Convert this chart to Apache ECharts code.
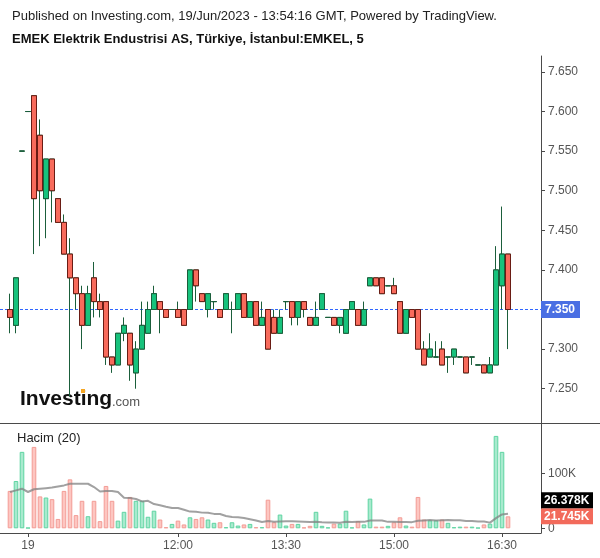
<!DOCTYPE html>
<html><head><meta charset="utf-8">
<script src="https://cdn.jsdelivr.net/npm/echarts@6/dist/echarts.min.js"></script>
<style>html,body{margin:0;padding:0;background:#fff}#c{width:600px;height:558px}</style>
</head><body><div id="c"></div>
<script>
// ---- data (EMKEL, 5 min) ----
const openP  = [7.35,7.33,7.55,7.60,7.62,7.57,7.49,7.54,7.49,7.46,7.42,7.39,7.37,7.33,7.39,7.36,7.36,7.29,7.28,7.32,
                7.32,7.27,7.30,7.32,7.35,7.36,7.35,7.35,7.35,7.35,7.35,7.40,7.37,7.35,7.36,7.35,7.35,7.35,7.35,7.37,
                7.34,7.36,7.33,7.35,7.34,7.32,7.36,7.36,7.34,7.36,7.34,7.33,7.35,7.34,7.34,7.33,7.32,7.35,7.35,7.33,
                7.38,7.39,7.39,7.38,7.38,7.36,7.32,7.35,7.35,7.30,7.29,7.29,7.30,7.29,7.29,7.29,7.29,7.29,7.28,7.28,
                7.27,7.28,7.38,7.42];
const closeP = [7.34,7.39,7.55,7.60,7.49,7.50,7.54,7.50,7.46,7.42,7.39,7.37,7.33,7.37,7.36,7.35,7.29,7.28,7.32,7.33,
                7.28,7.30,7.33,7.35,7.37,7.35,7.34,7.35,7.34,7.33,7.40,7.38,7.36,7.37,7.36,7.34,7.37,7.35,7.37,7.34,
                7.36,7.33,7.34,7.30,7.32,7.34,7.36,7.34,7.36,7.35,7.33,7.34,7.37,7.34,7.33,7.34,7.35,7.36,7.33,7.35,
                7.39,7.38,7.37,7.38,7.37,7.32,7.35,7.34,7.30,7.28,7.30,7.29,7.28,7.29,7.30,7.29,7.27,7.29,7.28,7.27,
                7.28,7.40,7.42,7.35];
const highP  = [7.37,7.39,7.55,7.60,7.62,7.59,7.54,7.54,7.49,7.47,7.44,7.39,7.38,7.38,7.41,7.37,7.36,7.29,7.32,7.34,
                7.32,7.31,7.36,7.36,7.38,7.36,7.35,7.35,7.36,7.35,7.40,7.40,7.37,7.37,7.36,7.35,7.37,7.36,7.37,7.37,
                7.36,7.36,7.36,7.35,7.35,7.35,7.36,7.36,7.36,7.36,7.34,7.36,7.37,7.34,7.34,7.34,7.35,7.36,7.35,7.36,
                7.39,7.39,7.39,7.38,7.39,7.36,7.35,7.35,7.35,7.31,7.32,7.31,7.31,7.29,7.30,7.29,7.29,7.29,7.28,7.28,
                7.29,7.43,7.48,7.42];
const lowP   = [7.32,7.32,7.55,7.60,7.42,7.43,7.44,7.46,7.46,7.42,7.24,7.35,7.30,7.33,7.34,7.34,7.28,7.27,7.28,7.31,
                7.26,7.25,7.30,7.32,7.35,7.32,7.34,7.35,7.34,7.33,7.35,7.36,7.36,7.34,7.35,7.34,7.35,7.32,7.35,7.34,
                7.34,7.33,7.33,7.30,7.32,7.32,7.35,7.33,7.33,7.34,7.33,7.33,7.35,7.34,7.33,7.32,7.32,7.35,7.33,7.33,
                7.38,7.38,7.37,7.38,7.37,7.32,7.32,7.34,7.30,7.28,7.29,7.29,7.28,7.27,7.28,7.29,7.27,7.28,7.28,7.27,
                7.27,7.28,7.35,7.30];
const volume = [68000,86000,139000,1000,148000,58000,56000,53000,17000,68000,89000,24000,50000,22000,50000,13000,77000,50000,14000,30000,
                57000,50000,50000,21000,32000,16000,2000,8000,14000,7000,20000,17000,20000,16000,10000,11000,2000,11000,5000,7000,
                8000,2000,2000,52000,11000,25000,5000,8000,8000,1500,4500,30000,4500,1500,8500,8500,32000,1500,13000,7000,
                54000,3000,3000,4500,11000,20000,5000,3000,57000,16000,14500,14500,16000,10000,2000,3000,3000,3000,1000,7000,
                8500,168000,139000,21745];
const volumeMA = [66000,69000,72000,66000,71000,72000,73000,74000,76000,78000,81000,81000,81000,81000,75000,67000,68000,68000,66000,55700,
                55100,53300,48900,49900,44100,42000,39300,37000,36900,33800,30400,30000,28500,28200,26200,26100,22400,20400,20000,18800,
                16400,14000,11600,13100,12100,12500,12700,12700,12400,12100,11300,12000,11200,10500,10400,10300,11800,11300,11700,11700,
                14000,14000,14100,11700,11700,11500,11500,11200,13700,14400,14900,14100,14700,15100,14800,14500,13100,13100,12500,12500,
                10300,18500,25300,26378];
const priceTicks = [7.25,7.30,7.35,7.40,7.45,7.50,7.55,7.60,7.65];
const volTicks = [0,100000];
const tickIndex = [3,28,46,64,82];
const tickText  = ['19','12:00','13:30','15:00','16:30'];

// categories: three bars of the previous session, then 5-minute slots from 09:55 (incl. empty right margin)
const SLOTS = 89;
const categories = ['16 17:50','16 17:55','16 18:00'];
for (let i = 3; i < SLOTS; i++) {
  const m = 9*60 + 55 + (i-3)*5;
  categories.push(String(Math.floor(m/60)).padStart(2,'0') + ':' + String(m%60).padStart(2,'0'));
}

const FONT = "'Liberation Sans', Arial, Helvetica, sans-serif";
const AX = '#4a4a4a';
const UP = '#17c27c', DOWN = '#f86b5c', UPB = '#1b5e3b', DOWNB = '#6a1c14';
const BLUE = '#2f66ff';

const wickData = openP.map((o,i)=>[o, closeP[i], lowP[i], highP[i]]);
const bodyData = openP.map((o,i)=>[o, closeP[i], Math.min(o,closeP[i]), Math.max(o,closeP[i])]);
const volData = volume.map((v,i)=>({
  value: v,
  itemStyle: closeP[i] >= openP[i]
    ? {color:'#a8eace', borderColor:'#5fd4a2', borderWidth:1}
    : {color:'#fdc6c1', borderColor:'#f39c95', borderWidth:1}
}));
const lastClose = closeP[closeP.length-1];
const lastVol = volume[volume.length-1];
const lastMA = volumeMA[volumeMA.length-1];

const chart = echarts.init(document.getElementById('c'), null, {renderer:'canvas'});
const option = {
  animation: false,
  textStyle: {fontFamily: FONT},
  grid: [
    {left:7, right:59, top:56, height:367},
    {left:7, right:59, top:423, height:110}
  ],
  xAxis: [
    {type:'category', gridIndex:0, data:categories, boundaryGap:true,
     axisLine:{show:false}, axisTick:{show:false}, axisLabel:{show:false}, splitLine:{show:false}},
    {type:'category', gridIndex:1, data:categories, boundaryGap:true,
     axisLine:{show:true, onZero:false, lineStyle:{color:AX}},
     axisTick:{show:true, alignWithLabel:true, length:4, interval:(i)=>tickIndex.includes(i), lineStyle:{color:AX}},
     axisLabel:{interval:(i)=>tickIndex.includes(i), formatter:(v,i)=>tickText[tickIndex.indexOf(i)] || '',
                color:'#555', fontSize:12, margin:7, fontFamily:FONT},
     splitLine:{show:false}}
  ],
  yAxis: [
    {type:'value', gridIndex:0, position:'right', min:7.2067, max:7.6701,
     splitLine:{show:false},
     axisLine:{show:true, lineStyle:{color:AX}},
     axisTick:{show:true, length:4, customValues:priceTicks, lineStyle:{color:AX}},
     axisLabel:{customValues:priceTicks, formatter:v=>v.toFixed(3), color:'#555', fontSize:12, margin:7, fontFamily:FONT}},
    {type:'value', gridIndex:1, position:'right', min:-8545, max:191455,
     splitLine:{show:false},
     axisLine:{show:true, lineStyle:{color:AX}},
     axisTick:{show:true, length:4, customValues:volTicks, lineStyle:{color:AX}},
     axisLabel:{customValues:volTicks, formatter:v=>v===0?'0':(v/1000)+'K', color:'#555', fontSize:12, margin:7, fontFamily:FONT}}
  ],
  graphic: {elements: [
    {id:'t1', type:'text', left:12, top:10, style:{text:'Published on Investing.com, 19/Jun/2023 - 13:54:16 GMT, Powered by TradingView.', fill:'#222', font:"13px "+FONT}},
    {id:'t2', type:'text', left:12, top:33, style:{text:'EMEK Elektrik Endustrisi AS, Türkiye, İstanbul:EMKEL, 5', fill:'#111', font:"bold 13px "+FONT}},
    {id:'sep', type:'line', shape:{x1:0,y1:423.5,x2:600,y2:423.5}, style:{stroke:AX, lineWidth:1}},
    {id:'bl', type:'line', shape:{x1:0,y1:533.5,x2:8,y2:533.5}, style:{stroke:AX, lineWidth:1}},
    {id:'logo1', type:'text', x:20, y:389, style:{text:'Investing', fill:'#111', font:"bold 21px "+FONT}},
    {id:'logo2', type:'text', x:112, y:396, style:{text:'.com', fill:'#555', font:"13px "+FONT}},
    {id:'logodot', type:'rect', shape:{x:81,y:389,width:4,height:4}, style:{fill:'#f5a623'}},
    {id:'hacim', type:'text', left:17, top:432, style:{text:'Hacim (20)', fill:'#222', font:"13px "+FONT}}
  ]},
  series: [
    {type:'candlestick', name:'wicks', xAxisIndex:0, yAxisIndex:0, data:wickData, barWidth:4.6, silent:true,
     itemStyle:{color:'rgba(0,0,0,0)', color0:'rgba(0,0,0,0)', borderColor:UPB, borderColor0:UPB, borderColorDoji:UPB, borderWidth:1}},
    {type:'candlestick', name:'EMKEL', xAxisIndex:0, yAxisIndex:0, data:bodyData, barWidth:4.6, silent:true,
     itemStyle:{color:UP, color0:DOWN, borderColor:UPB, borderColor0:DOWNB, borderColorDoji:UPB, borderWidth:1}},
    {type:'bar', name:'Hacim', xAxisIndex:1, yAxisIndex:1, data:volData, barWidth:4.6, silent:true},
    {type:'line', name:'MA20', xAxisIndex:1, yAxisIndex:1, data:volumeMA, symbol:'none', silent:true,
     lineStyle:{color:'rgba(130,130,130,0.75)', width:2}, z:3}
  ]
};
chart.setOption(option);

// last-price line + tag, and last-value tags on the volume axis (positions from the axes)
const pp = Math.floor(chart.convertToPixel({yAxisIndex:0}, lastClose)) + 0.5;
const py = chart.convertToPixel({yAxisIndex:1}, lastVol);
const H = 16;
chart.setOption({graphic:{elements:[
  {id:'pline', type:'line', shape:{x1:0, y1:pp, x2:541, y2:pp}, style:{stroke:BLUE, lineWidth:1, lineDash:[3,2]}, z:1},
  {id:'ptag', type:'rect', shape:{x:541, y:pp-8.5, width:39, height:17}, style:{fill:'#4a6fe3'}, z:10},
  {id:'ptagt', type:'text', x:545, y:pp-6, style:{text:lastClose.toFixed(3), fill:'#fff', font:"bold 12px "+FONT}, z:11},
  {id:'vtagR', type:'rect', shape:{x:541, y:py-H/2, width:52, height:H}, style:{fill:'#f26a5b'}, z:10},
  {id:'vtagRt', type:'text', x:544, y:py-H/2+2, style:{text:(lastVol/1000).toFixed(3)+'K', fill:'#fff', font:"bold 12px "+FONT}, z:11},
  {id:'vtagB', type:'rect', shape:{x:541, y:py-H/2-H, width:52, height:H}, style:{fill:'#000'}, z:10},
  {id:'vtagBt', type:'text', x:544, y:py-H/2-H+2, style:{text:(lastMA/1000).toFixed(3)+'K', fill:'#fff', font:"bold 12px "+FONT}, z:11}
]}});
</script></body></html>
